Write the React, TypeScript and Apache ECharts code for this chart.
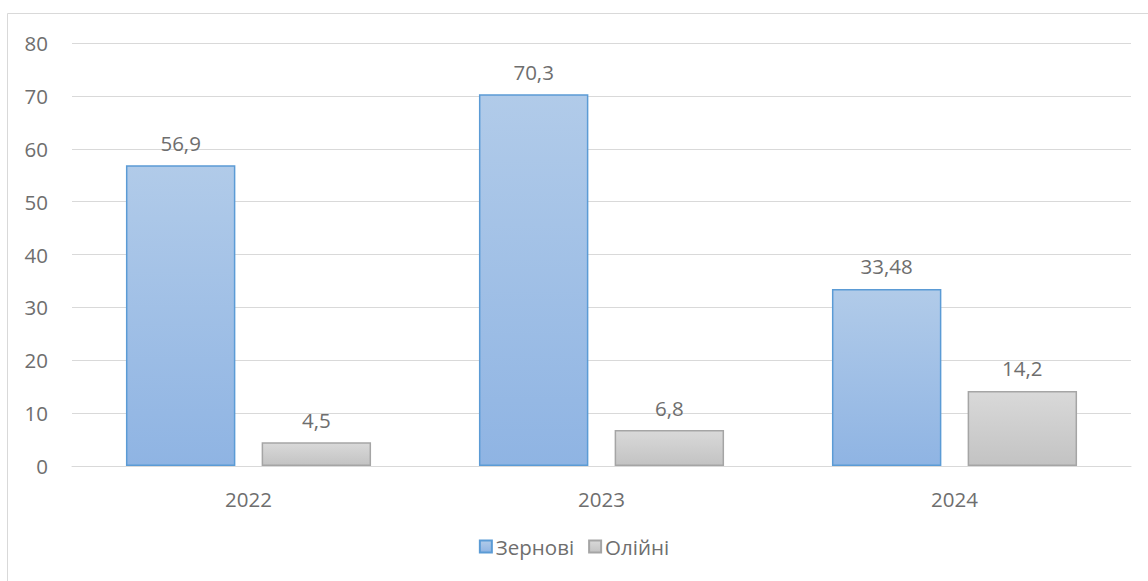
import React, { useEffect, useRef } from "react";
import * as echarts from "echarts";

const categories = ["2022", "2023", "2024"];
const grainValues = [56.9, 70.3, 33.48];
const oilValues = [4.5, 6.8, 14.2];
const seriesNames = ["Зернові", "Олійні"];

const FONT = "'Open Sans', 'Noto Sans', sans-serif";
const TXT = "#6e6e6e";
const FS = 20.5;

export default function App() {
  const ref = useRef<HTMLDivElement>(null);
  useEffect(() => {
    const chart = echarts.init(ref.current!, null, { renderer: "svg" });
    const label = {
      show: true,
      position: "top",
      distance: 12,
      color: TXT,
      fontSize: FS,
      fontFamily: FONT,
      formatter: (p: any) => String(p.value).replace(".", ","),
    };
    chart.setOption({
      animation: false,
      backgroundColor: "#ffffff",
      textStyle: { fontFamily: FONT },
      graphic: [
        {
          type: "rect",
          shape: { x: 7.5, y: 13.5, width: 1160, height: 600 },
          style: { fill: "none", stroke: "#d9d9d9", lineWidth: 1 },
          silent: true,
        },
      ],
      grid: { left: 72, right: 17, top: 43, bottom: 115, containLabel: false },
      legend: {
        bottom: 19,
        left: "center",
        icon: "rect",
        itemWidth: 12,
        itemHeight: 12,
        itemGap: 14,
        textStyle: { color: TXT, fontSize: FS, fontFamily: FONT, padding: [0, 0, 0, -1] },
        data: seriesNames,
      },
      xAxis: {
        type: "category",
        data: categories,
        axisLine: { lineStyle: { color: "#d9d9d9", width: 1 } },
        axisTick: { show: false },
        axisLabel: { color: TXT, fontSize: FS, fontFamily: FONT, margin: 22 },
      },
      yAxis: {
        type: "value",
        min: 0,
        max: 80,
        interval: 10,
        axisLine: { show: false },
        axisTick: { show: false },
        splitLine: { lineStyle: { color: "#d9d9d9", width: 1 } },
        axisLabel: { color: TXT, fontSize: FS, fontFamily: FONT, margin: 24, align: "right" },
      },
      series: [
        {
          name: seriesNames[0],
          type: "bar",
          data: grainValues,
          barWidth: "31%",
          barGap: "24%",
          itemStyle: {
            color: new echarts.graphic.LinearGradient(0, 0, 0, 1, [
              { offset: 0, color: "#b1cbe9" },
              { offset: 1, color: "#8fb4e3" },
            ]),
            borderColor: "#5b9bd5",
            borderWidth: 1.5,
          },
          label,
        },
        {
          name: seriesNames[1],
          type: "bar",
          data: oilValues,
          barWidth: "31%",
          itemStyle: {
            color: new echarts.graphic.LinearGradient(0, 0, 0, 1, [
              { offset: 0, color: "#d9d9d9" },
              { offset: 1, color: "#c3c3c3" },
            ]),
            borderColor: "#a5a5a5",
            borderWidth: 1.5,
          },
          label,
        },
      ],
    });
    return () => chart.dispose();
  }, []);
  return (
    <div
      ref={ref}
      style={{ position: "fixed", left: 0, top: 0, width: 1148, height: 581 }}
    />
  );
}
